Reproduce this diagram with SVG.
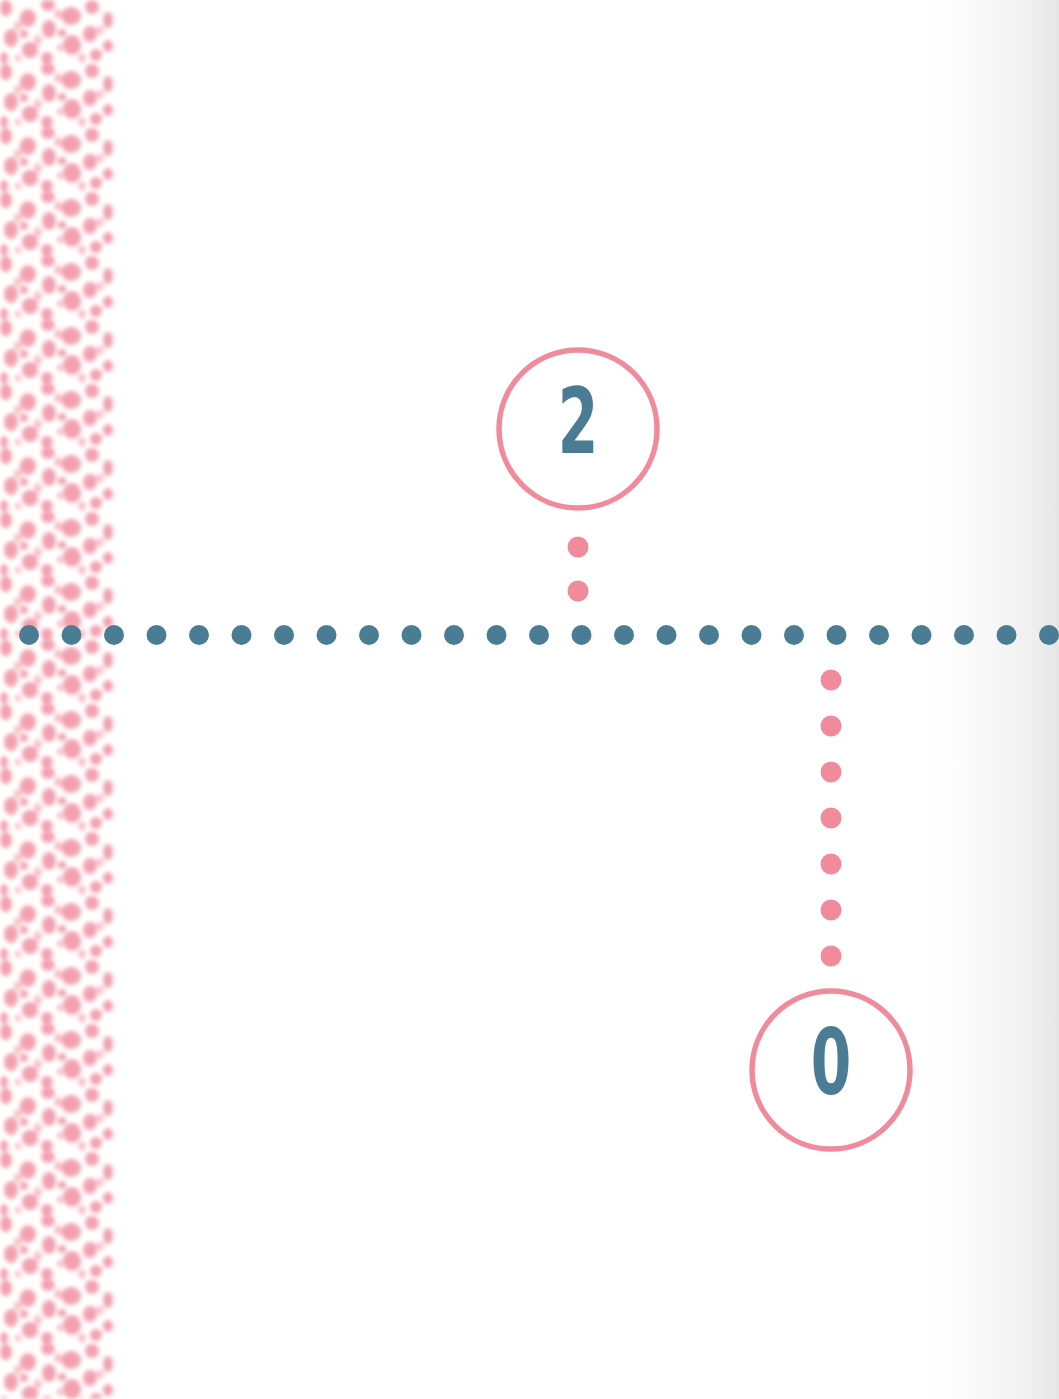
<svg xmlns="http://www.w3.org/2000/svg" width="1059" height="1399" viewBox="0 0 1059 1399">
  <defs>
    <style>
      .ring { fill: #ffffff; stroke: #f08b9c; stroke-width: 5.5; }
      .num { font-family: "DejaVu Sans Condensed", "DejaVu Sans", sans-serif; font-weight: bold; font-size: 90px; fill: #4a7d93; text-anchor: middle; }
      .bdot { fill: #4a7d93; }
      .pdot { fill: #f08b9c; }
    </style>
    <linearGradient id="edge" x1="0" y1="0" x2="1" y2="0">
      <stop offset="0" stop-color="#ffffff" stop-opacity="0"/>
      <stop offset="0.85" stop-color="#eeeeee" stop-opacity="1"/>
      <stop offset="1" stop-color="#e6e6e6" stop-opacity="1"/>
    </linearGradient>
    <filter id="soft" x="-10%" y="-10%" width="120%" height="120%">
      <feGaussianBlur stdDeviation="2"/>
    </filter>
    <pattern id="tex" width="113" height="64" patternUnits="userSpaceOnUse">
      <g fill="#ef8a9b" opacity="0.8">
        <ellipse cx="6" cy="8" rx="6" ry="8"/>
        <ellipse cx="11" cy="38" rx="7" ry="9"/>
        <ellipse cx="4" cy="58" rx="4" ry="6"/>
        <ellipse cx="28" cy="18" rx="8" ry="9"/>
        <ellipse cx="30" cy="50" rx="8" ry="8"/>
        <ellipse cx="24" cy="34" rx="4" ry="4"/>
        <ellipse cx="48" cy="5" rx="7" ry="6"/>
        <ellipse cx="49" cy="29" rx="7" ry="9"/>
        <ellipse cx="47" cy="58" rx="6" ry="6"/>
        <ellipse cx="71" cy="16" rx="10" ry="9"/>
        <ellipse cx="72" cy="45" rx="9" ry="10"/>
        <ellipse cx="62" cy="33" rx="4" ry="4"/>
        <ellipse cx="92" cy="7" rx="7" ry="7"/>
        <ellipse cx="90" cy="34" rx="7" ry="8"/>
        <ellipse cx="96" cy="55" rx="6" ry="6"/>
        <ellipse cx="108" cy="20" rx="5" ry="8"/>
        <ellipse cx="108" cy="46" rx="5" ry="6"/>
      </g>
      <g fill="#f4a8b4" opacity="0.7">
        <ellipse cx="18" cy="26" rx="4" ry="5"/>
        <ellipse cx="38" cy="40" rx="4" ry="5"/>
        <ellipse cx="58" cy="14" rx="4" ry="5"/>
        <ellipse cx="82" cy="58" rx="4" ry="5"/>
        <ellipse cx="100" cy="30" rx="4" ry="4"/>
        <ellipse cx="18" cy="58" rx="3" ry="4"/>
        <ellipse cx="60" cy="48" rx="3" ry="4"/>
      </g>
    </pattern>
  </defs>

  <rect x="0" y="0" width="1059" height="1399" fill="#ffffff"/>
  <rect x="900" y="0" width="159" height="1399" fill="url(#edge)"/>

  <g id="texture-strip" filter="url(#soft)">
    <rect x="0" y="0" width="113" height="1399" fill="url(#tex)"/>
  </g>

  <g id="connectors">
    <g id="timeline">
      <circle class="bdot" cx="29" cy="635" r="10"/>
      <circle class="bdot" cx="71.5" cy="635" r="10"/>
      <circle class="bdot" cx="114" cy="635" r="10"/>
      <circle class="bdot" cx="156.5" cy="635" r="10"/>
      <circle class="bdot" cx="199" cy="635" r="10"/>
      <circle class="bdot" cx="241.5" cy="635" r="10"/>
      <circle class="bdot" cx="284" cy="635" r="10"/>
      <circle class="bdot" cx="326.5" cy="635" r="10"/>
      <circle class="bdot" cx="369" cy="635" r="10"/>
      <circle class="bdot" cx="411.5" cy="635" r="10"/>
      <circle class="bdot" cx="454" cy="635" r="10"/>
      <circle class="bdot" cx="496.5" cy="635" r="10"/>
      <circle class="bdot" cx="539" cy="635" r="10"/>
      <circle class="bdot" cx="581.5" cy="635" r="10"/>
      <circle class="bdot" cx="624" cy="635" r="10"/>
      <circle class="bdot" cx="666.5" cy="635" r="10"/>
      <circle class="bdot" cx="709" cy="635" r="10"/>
      <circle class="bdot" cx="751.5" cy="635" r="10"/>
      <circle class="bdot" cx="794" cy="635" r="10"/>
      <circle class="bdot" cx="836.5" cy="635" r="10"/>
      <circle class="bdot" cx="879" cy="635" r="10"/>
      <circle class="bdot" cx="921.5" cy="635" r="10"/>
      <circle class="bdot" cx="964" cy="635" r="10"/>
      <circle class="bdot" cx="1006.5" cy="635" r="10"/>
      <circle class="bdot" cx="1049" cy="635" r="10"/>
    </g>
    <g id="link-2">
      <circle class="pdot" cx="578" cy="547" r="10.5"/>
      <circle class="pdot" cx="578" cy="591" r="10.5"/>
    </g>
    <g id="link-0">
      <circle class="pdot" cx="831" cy="680" r="10.5"/>
      <circle class="pdot" cx="831" cy="726" r="10.5"/>
      <circle class="pdot" cx="831" cy="772" r="10.5"/>
      <circle class="pdot" cx="831" cy="818" r="10.5"/>
      <circle class="pdot" cx="831" cy="864" r="10.5"/>
      <circle class="pdot" cx="831" cy="910" r="10.5"/>
      <circle class="pdot" cx="831" cy="956" r="10.5"/>
    </g>
  </g>

  <g id="node-2">
    <circle class="ring" cx="578" cy="429" r="79"/>
    <text class="num" transform="translate(578,453) scale(0.72,1)" x="0" y="0">2</text>
  </g>

  <g id="node-0">
    <circle class="ring" cx="831" cy="1070" r="79"/>
    <text class="num" transform="translate(831,1094) scale(0.72,1)" x="0" y="0">0</text>
  </g>
</svg>
